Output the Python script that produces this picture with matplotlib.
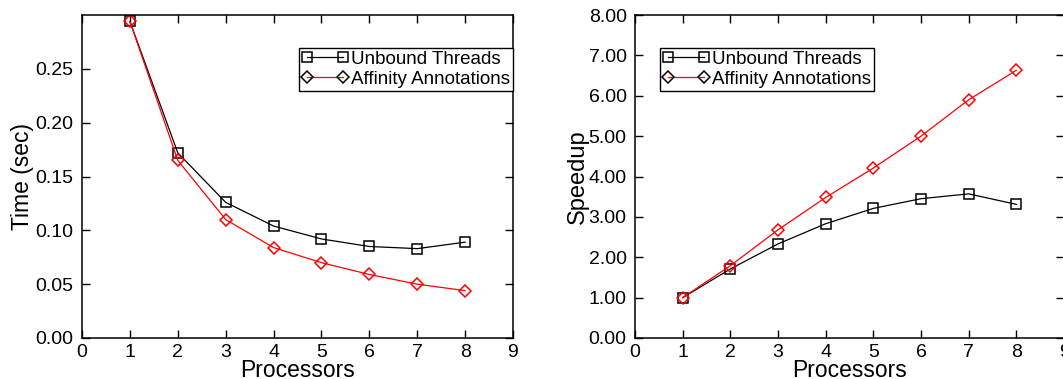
import matplotlib
matplotlib.use("Agg")
import matplotlib.pyplot as plt
from matplotlib.ticker import FormatStrFormatter

plt.rcParams['font.family'] = ['Liberation Sans', 'DejaVu Sans']

# processor counts
procs = [1, 2, 3, 4, 5, 6, 7, 8]

# execution time (sec)
time_unbound = [0.294, 0.172, 0.126, 0.104, 0.092, 0.085, 0.083, 0.089]
time_affinity = [0.294, 0.165, 0.110, 0.084, 0.070, 0.059, 0.050, 0.044]

# speedup relative to one processor
speedup_unbound = [1.00, 1.71, 2.33, 2.83, 3.21, 3.45, 3.57, 3.31]
speedup_affinity = [1.00, 1.79, 2.68, 3.48, 4.21, 5.00, 5.90, 6.63]

series_labels = ["Unbound Threads", "Affinity Annotations"]
x_ticks = list(range(0, 10))
time_ticks = [0.00, 0.05, 0.10, 0.15, 0.20, 0.25]
speedup_ticks = [0, 1, 2, 3, 4, 5, 6, 7, 8]

fig = plt.figure(figsize=(10.63, 3.79), dpi=100)
ax1 = fig.add_axes([82 / 1063, 41 / 379, 431 / 1063, 323 / 379])
ax2 = fig.add_axes([635 / 1063, 41 / 379, 429 / 1063, 323 / 379])


def style_axes(ax):
    ax.tick_params(direction='in', length=6, width=1, top=True, right=True,
                   labelsize=14)
    ax.tick_params(axis='y', pad=6)
    ax.tick_params(axis='x', pad=4)
    for s in ax.spines.values():
        s.set_linewidth(1.1)
    ax.set_xlim(0, 9)
    ax.set_xticks(x_ticks)
    ax.set_xlabel("Processors", fontsize=16.5, labelpad=-1)


def draw_series(ax, y_black, y_red):
    ax.plot(procs, y_black, color='black', lw=0.9, marker='s', ms=7.8,
            mfc='none', mec='black', mew=1.1, label=series_labels[0])
    ax.plot(procs, y_red, color='red', lw=0.9, marker='D', ms=6.1,
            mfc='none', mec='red', mew=1.1, label=series_labels[1])


def add_legend(ax, x, y):
    leg = ax.legend(loc='upper left', bbox_to_anchor=(x, y), borderaxespad=0,
                    fontsize=13.5, numpoints=2, handlelength=2.5,
                    handletextpad=0.15, borderpad=0.15, labelspacing=0.15,
                    fancybox=False, framealpha=1, edgecolor='black')
    leg.get_frame().set_linewidth(1.0)
    # legend markers are drawn in black like the printed key
    for h in leg.get_lines():
        h.set_markeredgecolor('black')


# time panel
draw_series(ax1, time_unbound, time_affinity)
style_axes(ax1)
ax1.set_ylim(0, 0.30)
ax1.set_yticks(time_ticks)
ax1.yaxis.set_major_formatter(FormatStrFormatter('%.2f'))
ax1.set_ylabel("Time (sec)", fontsize=16.5, labelpad=1)
add_legend(ax1, 0.503, 0.898)

# speedup panel
draw_series(ax2, speedup_unbound, speedup_affinity)
style_axes(ax2)
ax2.set_ylim(0, 8)
ax2.set_yticks(speedup_ticks)
ax2.yaxis.set_major_formatter(FormatStrFormatter('%.2f'))
ax2.set_ylabel("Speedup", fontsize=17, labelpad=0)
add_legend(ax2, 0.058, 0.898)

fig.savefig("out.png", dpi=100)
